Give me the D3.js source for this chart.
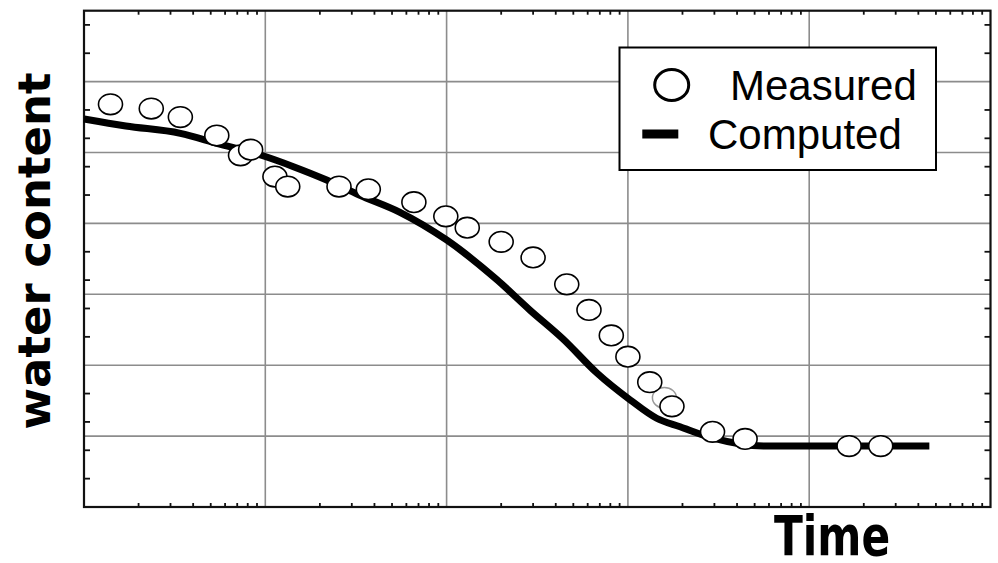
<!DOCTYPE html>
<html>
<head>
<meta charset="utf-8">
<script src="https://cdn.jsdelivr.net/npm/d3@7"></script>
<style>
  body { margin: 0; background: #fff; }
  svg { display: block; }
</style>
</head>
<body>
<div id="chart"></div>
<script>
// measured points (time, water content)
const measuredTime = [1.4, 2.35, 3.4, 5.4, 7.3, 8.3, 11.3, 13.3, 25.5, 37, 66, 99, 130, 200, 300, 460, 610, 810, 1000, 1320, 1750, 2930, 4430, 16600, 24800]
const measuredWater = [0.284, 0.281, 0.275, 0.262, 0.248, 0.252, 0.233, 0.226, 0.226, 0.224, 0.215, 0.205, 0.197, 0.187, 0.176, 0.157, 0.139, 0.121, 0.106, 0.088, 0.071, 0.053, 0.048, 0.043, 0.043]
// one faint (grey) point hidden behind the others
const faintTime = [1590]
const faintWater = [0.077]

// computed curve
const computedTime = [1, 1.7, 3.4, 5.4, 9.8, 14.3, 21.8, 33, 55, 100, 190, 288, 439, 675, 1030, 1440, 1940, 2960, 5600, 46000]
const computedWater = [0.2736, 0.2687, 0.2635, 0.2565, 0.2475, 0.240, 0.2306, 0.220, 0.208, 0.1883, 0.1601, 0.1389, 0.1185, 0.0945, 0.0755, 0.0626, 0.0566, 0.0485, 0.043, 0.043]

const legendLabels = ['Measured', 'Computed']
const xTitle = 'Time'
const yTitle = 'water content'

const W = 998
const H = 563
const margin = { top: 10.7, right: 7.5, bottom: 56, left: 84 }

const svg = d3.select('#chart')
  .append('svg')
  .attr('width', W)
  .attr('height', H)

const x = d3.scaleLog()
  .domain([1, 1e5])
  .range([margin.left, W - margin.right])
const y = d3.scaleLinear()
  .domain([0, 0.35])
  .range([H - margin.bottom, margin.top])

const x0 = x.range()[0]
const x1 = x.range()[1]
const y0 = y.range()[0]
const y1 = y.range()[1]

// tick values from the scales
const isDecade = d => Math.abs(Math.log10(d) - Math.round(Math.log10(d))) < 1e-9
const xAll = x.ticks()
const xMajor = xAll.filter(d => isDecade(d) && d > 1 && d < 1e5)
const xMinor = xAll.filter(d => !isDecade(d))
const yMajor = y.ticks(7).filter(d => d > 0 && d < 0.35 - 1e-9)
const yMinor = y.ticks(14).filter(d => Math.abs(Math.round(d / 0.05) * 0.05 - d) > 1e-9)

// grid
const grid = svg.append('g').attr('stroke', '#8c8c8c').attr('stroke-width', 1.6)
grid.selectAll('.vg').data(xMajor).enter().append('line')
  .attr('x1', d => x(d)).attr('x2', d => x(d))
  .attr('y1', y1).attr('y2', y0)
grid.selectAll('.hg').data(yMajor).enter().append('line')
  .attr('x1', x0).attr('x2', x1)
  .attr('y1', d => y(d)).attr('y2', d => y(d))

// minor ticks (inward)
const ticks = svg.append('g').attr('stroke', '#111').attr('stroke-width', 1.8)
ticks.selectAll('.tb').data(xMinor).enter().append('line')
  .attr('x1', d => x(d)).attr('x2', d => x(d))
  .attr('y1', y0).attr('y2', y0 - 4)
ticks.selectAll('.tt').data(xMinor).enter().append('line')
  .attr('x1', d => x(d)).attr('x2', d => x(d))
  .attr('y1', y1).attr('y2', y1 + 4)
ticks.selectAll('.tl').data(yMinor).enter().append('line')
  .attr('x1', x0).attr('x2', x0 + 6)
  .attr('y1', d => y(d)).attr('y2', d => y(d))
ticks.selectAll('.tr').data(yMinor).enter().append('line')
  .attr('x1', x1).attr('x2', x1 - 6)
  .attr('y1', d => y(d)).attr('y2', d => y(d))

// frame
svg.append('rect')
  .attr('x', x0).attr('y', y1)
  .attr('width', x1 - x0).attr('height', y0 - y1)
  .attr('fill', 'none')
  .attr('stroke', '#111')
  .attr('stroke-width', 2.2)

// computed line
const computed = computedTime.map((t, i) => ({ t: t, w: computedWater[i] }))
svg.append('path')
  .datum(computed)
  .attr('fill', 'none')
  .attr('stroke', '#000')
  .attr('stroke-width', 7)
  .attr('stroke-linejoin', 'round')
  .attr('d', d3.line()
    .x(d => x(d.t))
    .y(d => y(d.w))
    .curve(d3.curveMonotoneX))

// measured points
const faint = faintTime.map((t, i) => ({ t: t, w: faintWater[i] }))
svg.selectAll('.faint').data(faint).enter().append('ellipse')
  .attr('cx', d => x(d.t)).attr('cy', d => y(d.w))
  .attr('rx', 12).attr('ry', 10.3)
  .attr('fill', '#fff')
  .attr('stroke', '#999')
  .attr('stroke-width', 1.5)

const measured = measuredTime.map((t, i) => ({ t: t, w: measuredWater[i] }))
svg.selectAll('.pt').data(measured).enter().append('ellipse')
  .attr('cx', d => x(d.t)).attr('cy', d => y(d.w))
  .attr('rx', 12).attr('ry', 10.3)
  .attr('fill', '#fff')
  .attr('stroke', '#000')
  .attr('stroke-width', 1.6)

// legend
const lg = svg.append('g')
lg.append('rect')
  .attr('x', 619.5).attr('y', 47.5)
  .attr('width', 316.5).attr('height', 122.5)
  .attr('fill', '#fff')
  .attr('stroke', '#000')
  .attr('stroke-width', 2)
lg.append('ellipse')
  .attr('cx', 671.7).attr('cy', 85)
  .attr('rx', 17).attr('ry', 15.5)
  .attr('fill', 'none')
  .attr('stroke', '#000')
  .attr('stroke-width', 3)
lg.append('rect')
  .attr('x', 642.3).attr('y', 129.5)
  .attr('width', 36).attr('height', 9)
  .attr('fill', '#000')
lg.append('text')
  .attr('x', 730).attr('y', 99.5)
  .attr('font-family', '"Liberation Sans", Arial, sans-serif')
  .attr('font-size', 42)
  .text(legendLabels[0])
lg.append('text')
  .attr('x', 708).attr('y', 148.5)
  .attr('font-family', '"Liberation Sans", Arial, sans-serif')
  .attr('font-size', 42)
  .text(legendLabels[1])

// axis titles (the x title is a little taller than wide, as in the source)
svg.append('text')
  .attr('transform', 'translate(832,555) scale(0.92,1.2)')
  .attr('text-anchor', 'middle')
  .attr('font-family', '"DejaVu Sans", Verdana, sans-serif')
  .attr('font-weight', 'bold')
  .attr('font-size', 46)
  .text(xTitle)
svg.append('text')
  .attr('transform', 'translate(50,251) rotate(-90)')
  .attr('text-anchor', 'middle')
  .attr('font-family', '"DejaVu Sans", Verdana, sans-serif')
  .attr('font-weight', 'bold')
  .attr('font-size', 45)
  .text(yTitle)
</script>
</body>
</html>
